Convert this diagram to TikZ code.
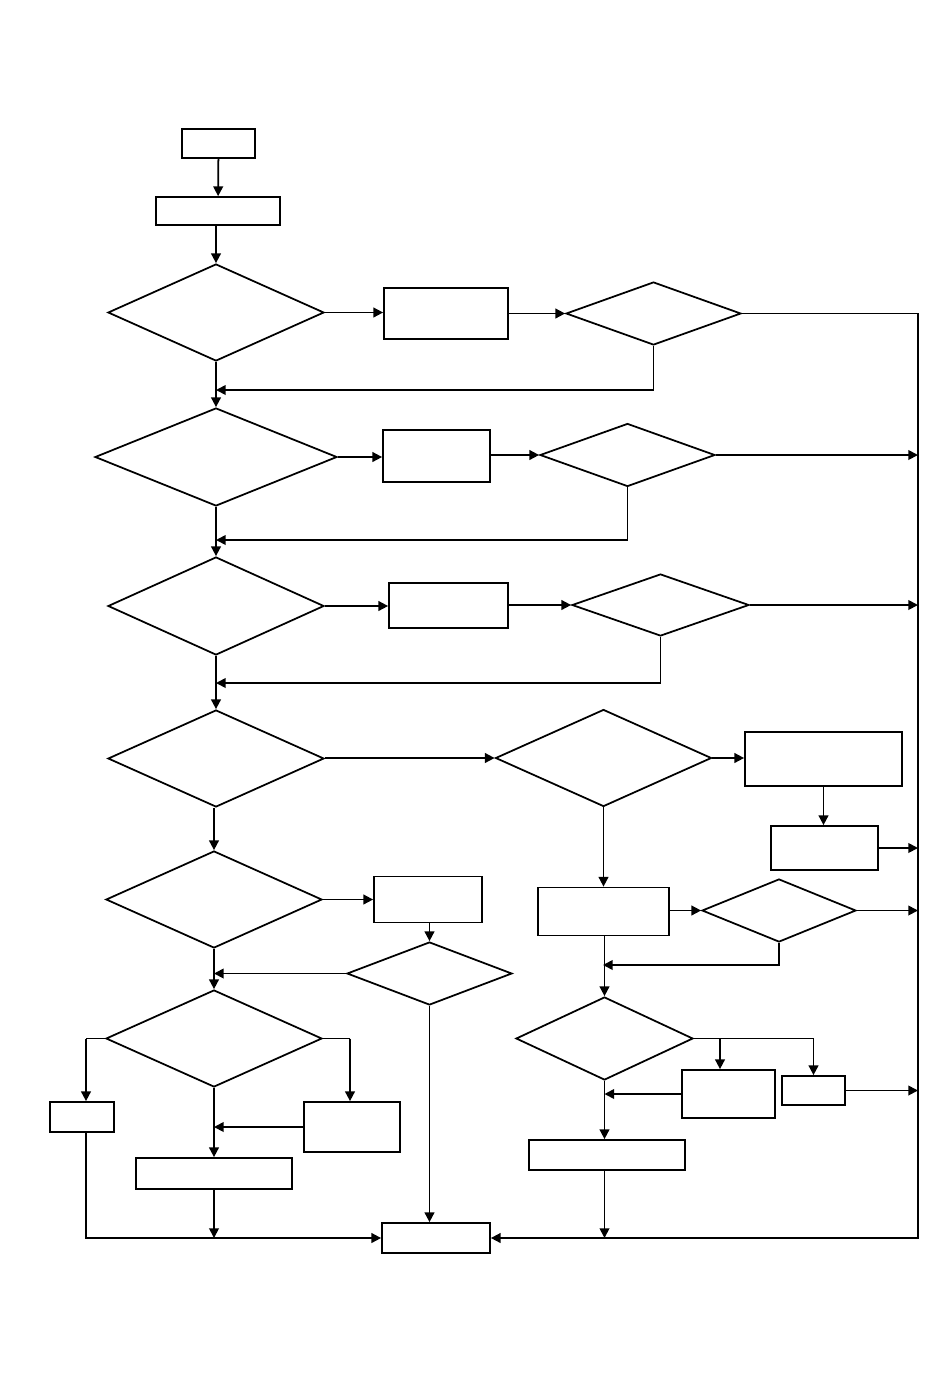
\documentclass[tikz,border=0pt]{standalone}
\usetikzlibrary{shapes.geometric,arrows.meta}

\begin{document}
\begin{tikzpicture}[
        x=0.02cm, y=-0.02cm, line width=1pt,
        sz/.style 2 args={minimum width=#1*0.02cm, minimum height=#2*0.02cm},
        box/.style={draw, rectangle, inner sep=0pt},
        dec/.style={draw, diamond, inner sep=0pt},
        ar/.style={-{Triangle[length=5.5pt,width=5.5pt]}}]

      \useasboundingbox (0,0) rectangle (950,1386);
      \coordinate (bus) at (918,0);

      % main column
      \node[box, sz={73}{29}]   (start) at (218.5,143.5) {};
      \node[box, sz={124}{28}]  (init)  at (218,211) {};
      \node[dec, sz={216}{97}]  (d1)    at (216,312.5) {};
      \node[dec, sz={242}{98}]  (d2)    at (216,457) {};
      \node[dec, sz={216}{98}]  (d3)    at (216,606) {};
      \node[dec, sz={216}{97}]  (d4)    at (216,758.5) {};
      \node[dec, sz={216}{97}]  (d5)    at (214,899.5) {};
      \node[dec, sz={216}{97}]  (d6)    at (214,1038.5) {};
      \node[box, sz={108}{30}]  (end)   at (436,1238) {};

      \draw[ar] (start) -- (init);
      \draw[ar] (init.south -| d1.north) -- (d1.north);
      \draw[ar] (d1) -- (d2);
      \draw[ar] (d2) -- (d3);
      \draw[ar] (d3) -- (d4);
      \draw[ar] (d4.south -| d5.north) -- (d5.north);
      \draw[ar] (d5) -- (d6);

      % rows 1-3
      \node[box, sz={124}{51}]  (b1) at (446,313.5) {};
      \node[dec, sz={175}{63}]  (e1) at (653.5,313.5) {};
      \node[box, sz={107}{52}]  (b2) at (436.5,456) {};
      \node[dec, sz={175}{63}]  (e2) at (627.5,455) {};
      \node[box, sz={119}{45}]  (b3) at (448.5,605.5) {};
      \node[dec, sz={177}{62}]  (e3) at (660.5,605) {};
      \coordinate (j1) at (216,390);
      \coordinate (j2) at (216,540);
      \coordinate (j3) at (216,683);

      \draw[ar] (d1.east) -- (d1.east -| b1.west);
      \draw[ar] (b1.east |- e1.west) -- (e1.west);
      \draw[ar] (e1.south) |- (j1);
      \draw[ar] (d2.east) -- (d2.east -| b2.west);
      \draw[ar] (b2.east |- e2.west) -- (e2.west);
      \draw[ar] (e2.south) |- (j2);
      \draw[ar] (e2.east) -- (e2.east -| bus);
      \draw[ar] (d3.east) -- (d3.east -| b3.west);
      \draw[ar] (b3.east |- e3.west) -- (e3.west);
      \draw[ar] (e3.south) |- (j3);
      \draw[ar] (e3.east) -- (e3.east -| bus);

      % right branch
      \node[dec, sz={216}{97}]  (f1) at (603.5,758) {};
      \node[box, sz={157}{54}]  (g1) at (823.5,759) {};
      \node[box, sz={107}{44}]  (g2) at (824.5,848) {};
      \node[box, sz={131}{48}]  (h1) at (603.5,911.5) {};
      \node[dec, sz={154}{63}]  (e4) at (779,910.5) {};
      \node[dec, sz={177}{83}]  (f2) at (604.5,1038.5) {};
      \node[box, sz={93}{48}]   (h2) at (728.5,1094) {};
      \node[box, sz={63}{29}]   (h3) at (813.5,1090.5) {};
      \node[box, sz={156}{30}]  (h4) at (607,1155) {};
      \coordinate (j4) at (603,965);
      \coordinate (k1) at (720,1038.5);

      \draw[ar] (d4.east |- f1.west) -- (f1.west);
      \draw[ar] (f1.east) -- (f1.east -| g1.west);
      \draw[ar] (g1.south) -- (g1.south |- g2.north);
      \draw[ar] (g2.east) -- (g2.east -| bus);
      \draw[ar] (f1.south) -- (f1.south |- h1.north);
      \draw[ar] (h1.east |- e4.west) -- (e4.west);
      \draw[ar] (e4.east) -- (e4.east -| bus);
      \draw[ar] (e4.south) |- (j4);
      \draw[ar] (h1.south -| f2.north) -- (f2.north);
      \draw[ar] (f2.east) -| (h3.north);
      \draw[ar] (k1) -- (k1 |- h2.north);
      \draw[ar] (h3.east) -- (h3.east -| bus);
      \draw[ar] (h2.west) -- (h2.west -| f2.south);
      \draw[ar] (f2.south) -- (f2.south |- h4.north);
      \draw[ar] (h4.south -| f2.south) -- (f2.south |- end.east);
      \draw[ar] (e1.east) -| (end.east -| bus) -- (end.east);

      % lower left
      \node[box, sz={108}{46}]  (b5) at (428,899.5) {};
      \node[dec, sz={165}{63}]  (e5) at (429.5,973.5) {};
      \node[box, sz={64}{30}]   (l1) at (82,1117) {};
      \node[box, sz={96}{50}]   (r1) at (352,1127) {};
      \node[box, sz={156}{31}]  (m1) at (214,1173.5) {};
      \coordinate (k2) at (86,1038.5);
      \coordinate (k3) at (350,1038.5);

      \draw[ar] (d5) -- (b5);
      \draw[ar] (b5.south -| e5.north) -- (e5.north);
      \draw[ar] (e5.west) -- (e5.west -| d6.north);
      \draw[ar] (e5.south) -- (e5.south |- end.north);
      \draw (d6.west) -- (k2);
      \draw[ar] (k2) -- (k2 |- l1.north);
      \draw (d6.east) -- (k3);
      \draw[ar] (k3) -- (k3 |- r1.north);
      \draw[ar] (r1.west) -- (r1.west -| m1.north);
      \draw[ar] (d6.south) -- (m1.north);
      \draw[ar] (m1.south) -- (m1.south |- end.west);
      \draw[ar] (k2 |- l1.south) |- (end.west);
\end{tikzpicture}
\end{document}
